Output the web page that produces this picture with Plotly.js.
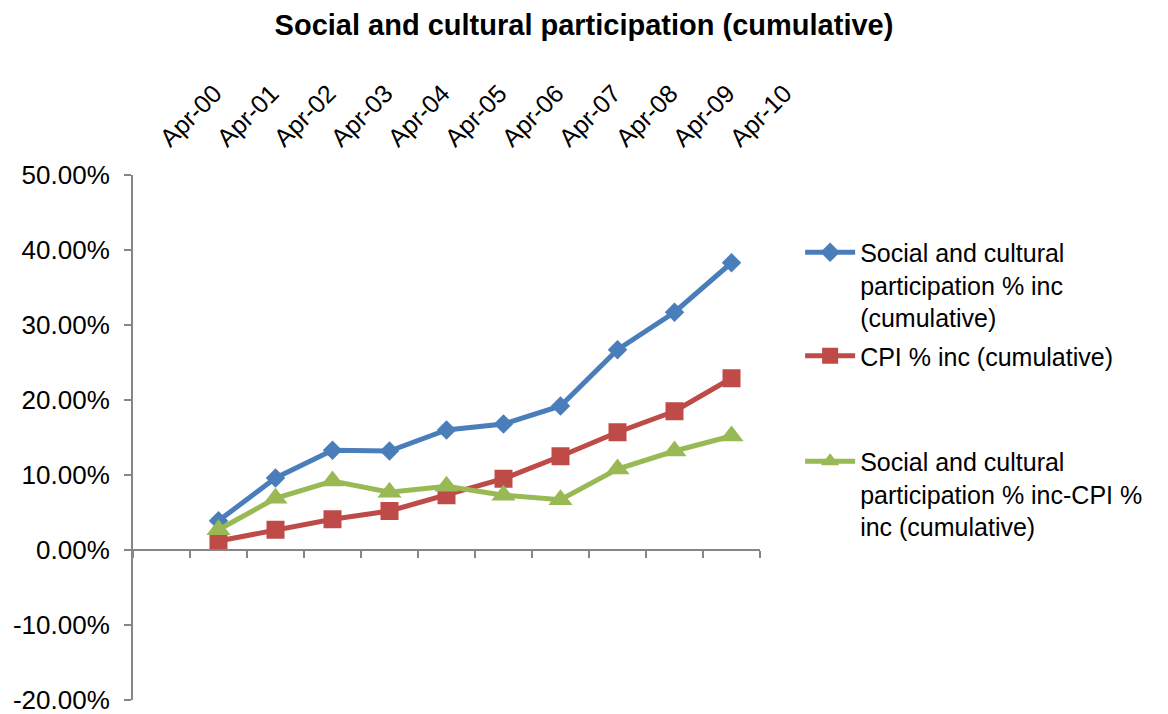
<!DOCTYPE html>
<html>
<head>
<meta charset="utf-8">
<script src="https://cdn.plot.ly/plotly-3.0.1.min.js"></script>
<style>html,body{margin:0;padding:0;background:#fff;}#chart{width:1168px;height:714px;}</style>
</head>
<body>
<div id="chart"></div>
<script>
const categories = ["Apr-00","Apr-01","Apr-02","Apr-03","Apr-04","Apr-05","Apr-06","Apr-07","Apr-08","Apr-09","Apr-10"];
const socialCultural = [null, 0.039, 0.096, 0.133, 0.132, 0.160, 0.168, 0.192, 0.267, 0.317, 0.383];
const cpi = [null, 0.012, 0.027, 0.041, 0.052, 0.073, 0.095, 0.125, 0.157, 0.185, 0.229];
const difference = [null, 0.027, 0.069, 0.092, 0.077, 0.085, 0.073, 0.067, 0.108, 0.132, 0.152];
const seriesNames = [
  "Social and cultural<br>participation % inc<br>(cumulative)",
  "CPI % inc (cumulative)",
  "Social and cultural<br>participation % inc-CPI %<br>inc (cumulative)"
];
const yTicks = [-0.2, -0.1, 0, 0.1, 0.2, 0.3, 0.4, 0.5];
const yTickText = ["-20.00%", "-10.00%", "0.00%", "10.00%", "20.00%", "30.00%", "40.00%", "50.00%"];

const FONT = "Liberation Sans, Arial, sans-serif";
const AXIS_GREY = "#868686";

const traces = [
  {x: categories, y: socialCultural, name: seriesNames[0], type: "scatter", mode: "lines+markers",
   line: {color: "#4A7EBB", width: 5}, marker: {symbol: "diamond", size: 15, color: "#4A7EBB"},
   legend: "legend"},
  {x: categories, y: cpi, name: seriesNames[1], type: "scatter", mode: "lines+markers",
   line: {color: "#BE4B48", width: 5}, marker: {symbol: "square", size: 18, color: "#BE4B48"},
   legend: "legend2"},
  {x: categories, y: difference, name: seriesNames[2], type: "scatter", mode: "lines+markers",
   line: {color: "#98B954", width: 5}, marker: {symbol: "triangle-up", size: 21, color: "#98B954"},
   legend: "legend3"},
  {x: categories, y: categories.map(() => null), xaxis: "x2", type: "scatter", mode: "lines",
   showlegend: false, hoverinfo: "skip"}
];

const legendBase = {
  x: 1.064, xanchor: "left", yanchor: "top", bgcolor: "rgba(0,0,0,0)",
  font: {family: FONT, size: 25, color: "#000"}, valign: "top", itemwidth: 50
};

const layout = {
  width: 1168, height: 714,
  margin: {l: 133, r: 408, t: 175, b: 14},
  paper_bgcolor: "#fff", plot_bgcolor: "#fff",
  font: {family: FONT, size: 24, color: "#000"},
  title: {text: "<b>Social and cultural participation (cumulative)</b>",
          font: {family: FONT, size: 29, color: "#000"},
          x: 0.5, xanchor: "center", xref: "container", y: 0.965, yanchor: "middle", yref: "container"},
  xaxis: {type: "category", categoryorder: "array", categoryarray: categories, range: [-0.5, 10.5],
          side: "top", showline: false, ticks: "", showgrid: false, zeroline: false,
          tickangle: -45, tickfont: {family: FONT, size: 25, color: "#000"}, ticklabelstandoff: 17},
  xaxis2: {type: "category", categoryorder: "array", categoryarray: categories, range: [-0.5, 10.5],
           overlaying: "x", anchor: "free", position: 20/70, side: "bottom",
           showline: true, linecolor: AXIS_GREY, linewidth: 2, ticks: "outside", ticklen: 7,
           tickcolor: AXIS_GREY, tickwidth: 2, tickson: "boundaries", showticklabels: false,
           showgrid: false, zeroline: false},
  yaxis: {range: [-0.2, 0.5], tickvals: yTicks, ticktext: yTickText, showline: true, linecolor: AXIS_GREY,
          linewidth: 2, ticks: "outside", ticklen: 7, tickcolor: AXIS_GREY, tickwidth: 2,
          showgrid: false, zeroline: false, tickfont: {family: FONT, size: 26, color: "#000"},
          ticklabelstandoff: 9, ticklabeloverflow: "allow"},
  legend: Object.assign({}, legendBase, {y: 0.896}),
  legend2: Object.assign({}, legendBase, {y: 0.699}),
  legend3: Object.assign({}, legendBase, {y: 0.498}),
  showlegend: true
};

Plotly.newPlot("chart", traces, layout, {displayModeBar: false, staticPlot: true});
</script>
</body>
</html>
